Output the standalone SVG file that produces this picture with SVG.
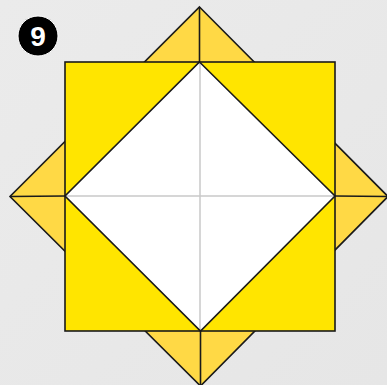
<svg xmlns="http://www.w3.org/2000/svg" width="387" height="385" viewBox="0 0 387 385">
  <defs>
    <style>
      .edge { stroke: #1a1a1a; stroke-width: 1.6; stroke-linejoin: miter; }
      .flap { fill: #FFD945; }
      .sq { fill: #FFE500; }
      .fold { stroke: #c8c8c8; stroke-width: 1.5; fill: none; }
    </style>
    <linearGradient id="bg" x1="0" y1="0" x2="1" y2="1">
      <stop offset="0" stop-color="#ebebeb"/>
      <stop offset="1" stop-color="#e6e6e6"/>
    </linearGradient>
  </defs>
  <rect x="0" y="0" width="387" height="385" fill="url(#bg)"/>
  <g id="flaps">
    <polygon class="flap edge" points="199.5,7 388,196.5 200.5,386 10,196.5"/>
    <line class="edge" x1="199.5" y1="7" x2="199.5" y2="62"/>
    <line class="edge" x1="10" y1="196.5" x2="65" y2="196"/>
    <line class="edge" x1="388" y1="196.5" x2="335" y2="196"/>
    <line class="edge" x1="200.5" y1="386" x2="200.5" y2="331"/>
  </g>
  <g id="square">
    <rect class="sq edge" x="65" y="62" width="270" height="269"/>
  </g>
  <g id="diamond">
    <polygon fill="#ffffff" points="199.5,62 335,196 200.5,331 65,196"/>
    <line class="fold" x1="200" y1="63" x2="200" y2="330"/>
    <line class="fold" x1="66" y1="196" x2="334" y2="196"/>
    <polygon class="edge" fill="none" points="199.5,62 335,196 200.5,331 65,196"/>
  </g>
  <g id="badge">
    <circle cx="38" cy="36" r="20" fill="#000000" stroke="#ffffff" stroke-width="1"/>
    <text x="38" y="46" text-anchor="middle" font-family="Liberation Sans, Arial, sans-serif" font-weight="bold" font-size="28" fill="#ffffff">9</text>
  </g>
</svg>
